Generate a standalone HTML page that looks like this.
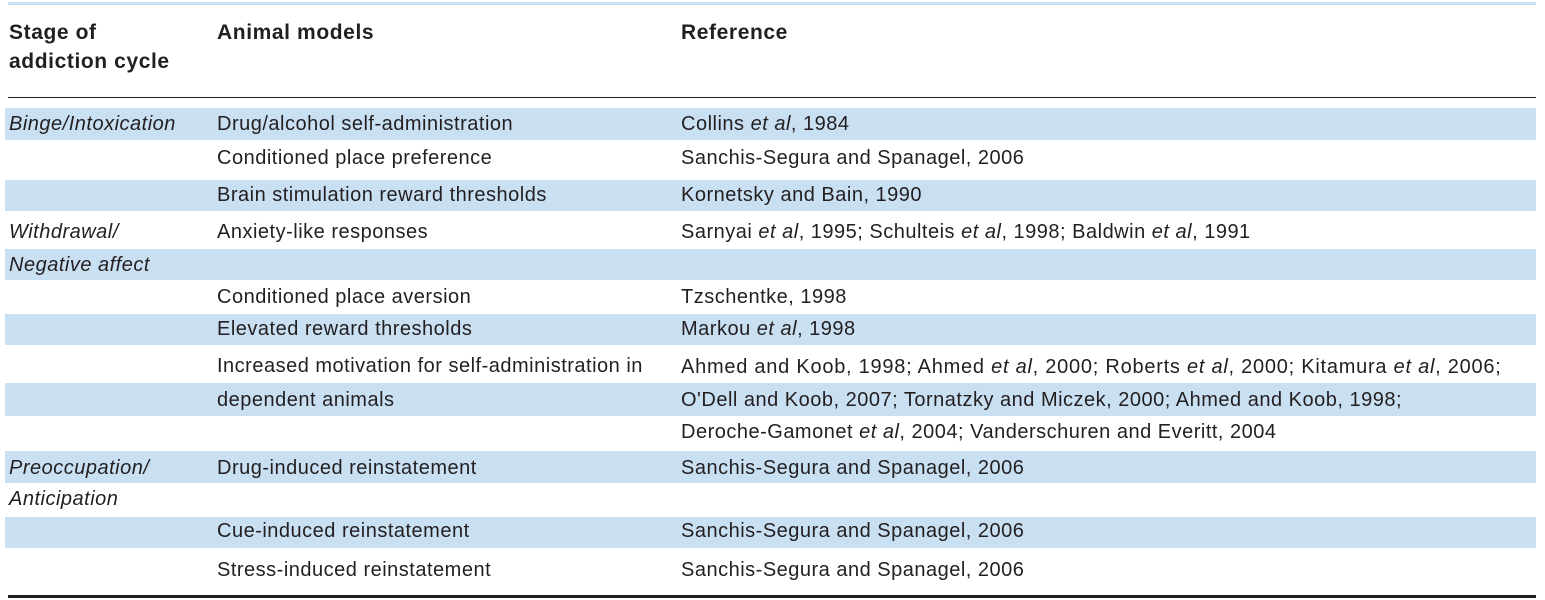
<!DOCTYPE html>
<html><head><meta charset="utf-8"><style>
body{margin:0;width:1545px;height:600px;background:#fff;position:relative;overflow:hidden;font-family:"Liberation Sans",sans-serif;color:#231f20}
.s{position:absolute;left:5px;width:1531px;background:#c9dff2}
.t{position:absolute;font-size:20px;letter-spacing:0.5px;line-height:22px;white-space:nowrap}
.h{font-weight:bold;font-size:21px;letter-spacing:0.6px}
i{font-style:italic}
</style></head><body>
<div style="position:absolute;left:8px;top:2px;width:1528px;height:3px;background:#c9dff2"></div>
<div style="position:absolute;left:8px;top:97px;width:1528px;height:1px;background:#231f20"></div>
<div style="position:absolute;left:8px;top:595px;width:1528px;height:3px;background:#231f20"></div>

<div class="s" style="top:108px;height:32px"></div>
<div class="s" style="top:180px;height:31px"></div>
<div class="s" style="top:249px;height:31px"></div>
<div class="s" style="top:314px;height:31px"></div>
<div class="s" style="top:383px;height:33px"></div>
<div class="s" style="top:451px;height:32px"></div>
<div class="s" style="top:517px;height:31px"></div>

<div class="t h" style="left:9px;top:22px">Stage of</div>
<div class="t h" style="left:9px;top:51px">addiction cycle</div>
<div class="t h" style="left:217px;top:22px">Animal models</div>
<div class="t h" style="left:681px;top:22px">Reference</div>

<div class="t" style="left:9px;top:113px"><i>Binge/Intoxication</i></div>
<div class="t" style="left:217px;top:113px">Drug/alcohol self-administration</div>
<div class="t" style="left:681px;top:113px">Collins <i>et al</i>, 1984</div>

<div class="t" style="left:217px;top:147px">Conditioned place preference</div>
<div class="t" style="left:681px;top:147px">Sanchis-Segura and Spanagel, 2006</div>

<div class="t" style="left:217px;top:184px">Brain stimulation reward thresholds</div>
<div class="t" style="left:681px;top:184px">Kornetsky and Bain, 1990</div>

<div class="t" style="left:9px;top:221px"><i>Withdrawal/</i></div>
<div class="t" style="left:9px;top:254px"><i>Negative affect</i></div>
<div class="t" style="left:217px;top:221px">Anxiety-like responses</div>
<div class="t" style="left:681px;top:221px">Sarnyai <i>et al</i>, 1995; Schulteis <i>et al</i>, 1998; Baldwin <i>et al</i>, 1991</div>

<div class="t" style="left:217px;top:286px">Conditioned place aversion</div>
<div class="t" style="left:681px;top:286px">Tzschentke, 1998</div>

<div class="t" style="left:217px;top:318px">Elevated reward thresholds</div>
<div class="t" style="left:681px;top:318px">Markou <i>et al</i>, 1998</div>

<div class="t" style="left:217px;top:355px">Increased motivation for self-administration in</div>
<div class="t" style="left:217px;top:389px">dependent animals</div>
<div class="t" style="left:681px;top:356px;letter-spacing:0.75px">Ahmed and Koob, 1998; Ahmed <i>et al</i>, 2000; Roberts <i>et al</i>, 2000; Kitamura <i>et al</i>, 2006;</div>
<div class="t" style="left:681px;top:389px">O'Dell and Koob, 2007; Tornatzky and Miczek, 2000; Ahmed and Koob, 1998;</div>
<div class="t" style="left:681px;top:421px">Deroche-Gamonet <i>et al</i>, 2004; Vanderschuren and Everitt, 2004</div>

<div class="t" style="left:9px;top:457px"><i>Preoccupation/</i></div>
<div class="t" style="left:9px;top:488px"><i>Anticipation</i></div>
<div class="t" style="left:217px;top:457px">Drug-induced reinstatement</div>
<div class="t" style="left:681px;top:457px">Sanchis-Segura and Spanagel, 2006</div>

<div class="t" style="left:217px;top:520px">Cue-induced reinstatement</div>
<div class="t" style="left:681px;top:520px">Sanchis-Segura and Spanagel, 2006</div>

<div class="t" style="left:217px;top:559px">Stress-induced reinstatement</div>
<div class="t" style="left:681px;top:559px">Sanchis-Segura and Spanagel, 2006</div>
</body></html>
